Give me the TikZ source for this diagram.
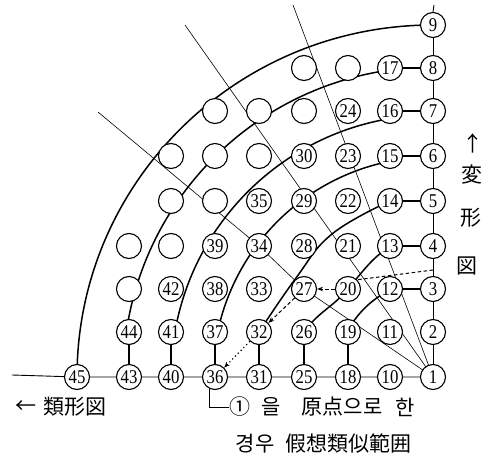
\documentclass[tikz,border=0pt]{standalone}
\usepackage{fontspec}
\usepackage{graphicx}
\setmainfont{Liberation Serif}
\newfontfamily\cjkfont{Noto Sans CJK JP}
\usetikzlibrary{arrows.meta,backgrounds}
\begin{document}
\begin{tikzpicture}[x=1pt,y=1pt,
  num/.style={circle,draw,line width=1.1pt,fill=white,minimum size=25pt,inner sep=0pt,font=\fontsize{19.5}{19.5}\selectfont},
  emp/.style={circle,draw,line width=1.1pt,fill=white,minimum size=25pt,inner sep=0pt},
  arcline/.style={line width=1.5pt},
  link/.style={line width=1.2pt},
  axisline/.style={line width=0.9pt},
  ray/.style={line width=0.6pt},
  dashln/.style={line width=1pt,dash pattern=on 3.5pt off 2.5pt},
  dasharr/.style={dashln,-{Stealth[length=6pt,width=4.5pt]}},
  dotarr/.style={line width=1.2pt,dash pattern=on 1.2pt off 2.8pt,-{Stealth[length=6pt,width=4.5pt]}},
  lbl/.style={inner sep=0pt,font=\cjkfont\fontsize{21}{21}\selectfont},
]
\useasboundingbox (0,0) rectangle (491,459);
\def\Xs{{433,390,348,304,259,215,171,129,77}}
\def\Ys{{82,127,170,213,258,303,348,391,434}}
% numbered nodes
\foreach \i/\s in {0/1,1/10,2/18,3/25,4/31,5/36,6/40,7/43,8/45}{
  \pgfmathtruncatemacro\jmax{8-\i}
  \foreach \j in {0,...,\jmax}{
    \pgfmathtruncatemacro\n{\s+\j}
    \pgfmathsetmacro\xx{\Xs[\i]}
    \pgfmathsetmacro\yy{\Ys[\j]}
    \node[num] (n\n) at (\xx,\yy) {\scalebox{0.86}[1]{\n}};
  }
}
% empty circles
\foreach \i/\j in {7/2,6/3,7/3,5/4,6/4,4/5,5/5,6/5,3/6,4/6,5/6,2/7,3/7}{
  \pgfmathsetmacro\xx{\Xs[\i]}
  \pgfmathsetmacro\yy{\Ys[\j]}
  \node[emp] (e\i\j) at (\xx,\yy) {};
}
\coordinate (leftend) at (12,84);
\coordinate (r1end) at (98,347);
\coordinate (r2end) at (185,434);
\coordinate (r3end) at (293,454);
\coordinate (dstart) at (433,189);
% labels
\node[lbl] (arrL) at (26,52) {←};
\node[lbl] (ruikei) at (75,52) {類形図};
\node[lbl] (arrU) at (473,316) {↑};
\node[lbl] (hen) at (472,284) {変};
\node[lbl] (kei) at (471,241) {形};
\node[lbl] (zu) at (467,193) {図};
\node[lbl] (c1) at (240,52) {①};
\node[lbl] (c2) at (271,52) {을};
\node[lbl] (c3) at (342,52) {原点으로};
\node[lbl] (c4) at (405,52) {한};
\node[lbl] (d1) at (255,15) {경우};
\node[lbl] (d2) at (348,15) {假想類似範囲};
\begin{scope}[on background layer]
  % axes
  \draw[axisline] (n1) -- (n2) -- (n3) -- (n4) -- (n5) -- (n6) -- (n7) -- (n8) -- (n9);
  \draw[axisline] (n9.north) -- ++(1,7);
  \draw[axisline] (n1) -- (n10) -- (n18) -- (n25) -- (n31) -- (n36) -- (n40) -- (n43) -- (n45) -- (leftend);
  % radial lines
  \draw[ray] (n1.center) -- (n27.center) -- (n34.center) -- (r1end);
  \draw[ray] (n1.center) -- (r2end);
  \draw[ray] (n1.center) -- (r3end);
  % short links
  \draw[link] (n3)--(n12) (n4)--(n13) (n5)--(n14) (n6)--(n15) (n7)--(n16) (n8)--(n17);
  \draw[link] (n19)--(n18) (n26)--(n25) (n32)--(n31) (n37)--(n36) (n41)--(n40) (n44)--(n43);
  % arcs
  \draw[arcline] (n1.center) ++(116.0:97) arc[start angle=116.0,end angle=152.1,radius=97];
  \draw[arcline] (n13.center) to[out=215,in=50] (n20.center) to[out=230,in=55] (n26.center);
  \draw[arcline] plot[smooth,tension=0.7] coordinates {(n14.center) (332,225) (296,181) (n32.center)};
  \draw[arcline] (n1.center) ++(101:220) arc[start angle=101,end angle=168.3,radius=220];
  \draw[arcline] (n1.center) ++(99.2:262) arc[start angle=99.2,end angle=170.3,radius=262];
  \draw[arcline] (n1.center) ++(97.9:310) arc[start angle=97.9,end angle=171.6,radius=310];
  \draw[arcline] (n9.center) arc[start angle=90,end angle=180,x radius=356,y radius=352];
  % dashed / dotted path
  \draw[dashln] (dstart) -- (n20.north east);
  \draw[dasharr] (n20) -- (n27);
  \draw[dasharr] (n27) -- (n32);
  \draw[dotarr] (n32) -- (n36);
  % bracket
  \draw[axisline] (n36.245) |- (c1.west);
\end{scope}
\end{tikzpicture}
\end{document}
